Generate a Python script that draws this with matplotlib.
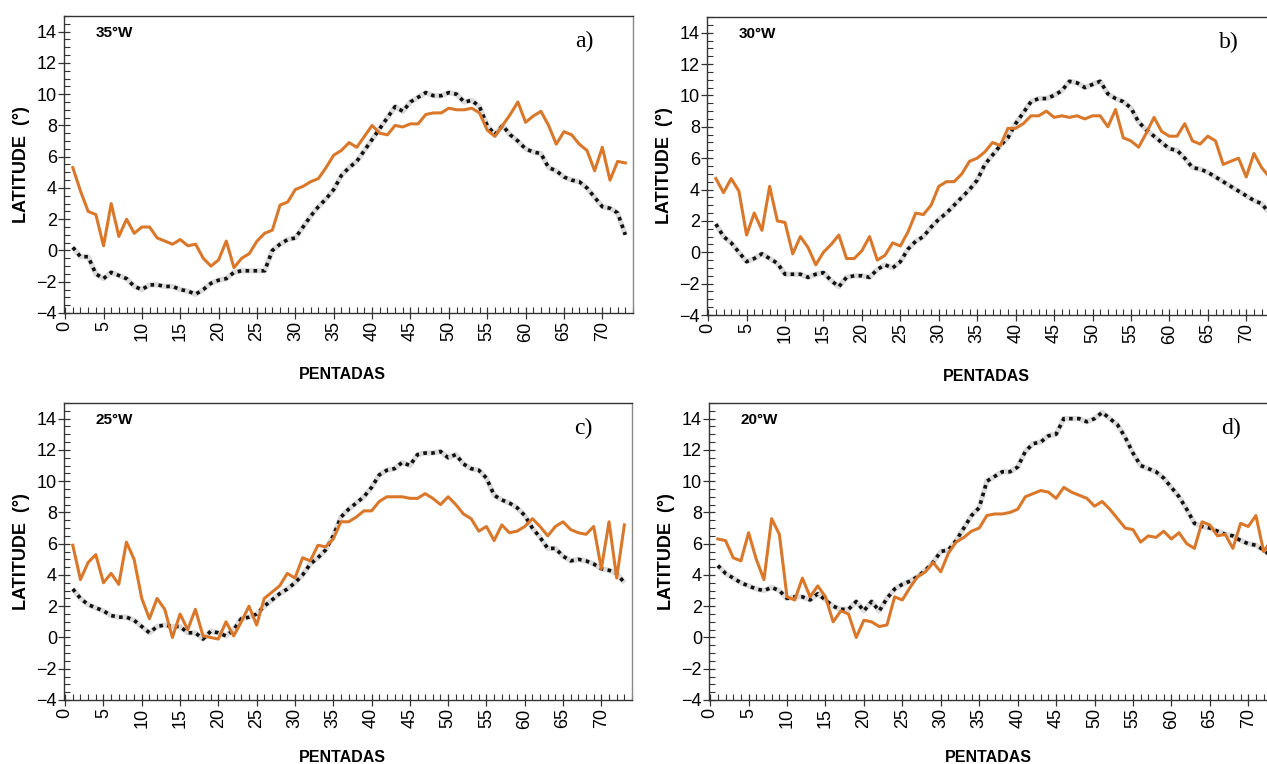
import matplotlib
matplotlib.use("Agg")
import matplotlib.pyplot as plt
from matplotlib.ticker import MultipleLocator
import numpy as np

plt.rcParams['font.family'] = ['Liberation Sans', 'DejaVu Sans']

pentadas = list(range(1, 74))

# 35°W
obs_35w = [5.3, 3.8, 2.5, 2.3, 0.3, 3.0, 0.9, 2.0, 1.1, 1.5, 1.5, 0.8, 0.6, 0.4, 0.7, 0.3, 0.4, -0.5,
           -1.0, -0.6, 0.6, -1.1, -0.5, -0.2, 0.6, 1.1, 1.3, 2.9, 3.1, 3.9, 4.1, 4.4, 4.6, 5.3, 6.1, 6.4,
           6.9, 6.6, 7.3, 8.0, 7.5, 7.4, 8.0, 7.9, 8.1, 8.1, 8.7, 8.8, 8.8, 9.1, 9.0, 9.0, 9.1, 8.8,
           7.7, 7.3, 8.0, 8.7, 9.5, 8.2, 8.6, 8.9, 8.0, 6.8, 7.6, 7.4, 6.8, 6.4, 5.1, 6.6, 4.5, 5.7, 5.6]
clim_35w = [0.2, -0.4, -0.4, -1.5, -1.8, -1.4, -1.6, -1.8, -2.3, -2.5, -2.2, -2.2, -2.3, -2.3, -2.5,
            -2.6, -2.8, -2.5, -2.1, -1.9, -1.8, -1.4, -1.3, -1.3, -1.3, -1.3, 0.0, 0.4, 0.7, 0.8, 1.5,
            2.2, 2.8, 3.3, 3.9, 4.8, 5.3, 5.7, 6.4, 7.1, 7.8, 8.5, 9.2, 8.9, 9.5, 9.8, 10.1, 9.9, 9.9,
            10.1, 10.0, 9.5, 9.6, 9.2, 8.0, 7.4, 8.0, 7.4, 7.0, 6.5, 6.3, 6.2, 5.3, 5.1, 4.7, 4.5, 4.4,
            4.0, 3.4, 2.8, 2.7, 2.4, 1.0]

# 30°W
obs_30w = [4.7, 3.8, 4.7, 3.9, 1.1, 2.5, 1.4, 4.2, 2.0, 1.9, -0.1, 1.0, 0.3, -0.8, 0.0, 0.5, 1.1, -0.4,
           -0.4, 0.1, 1.0, -0.5, -0.2, 0.6, 0.4, 1.3, 2.5, 2.4, 3.0, 4.2, 4.5, 4.5, 5.0, 5.8, 6.0, 6.4,
           7.0, 6.8, 7.9, 7.9, 8.2, 8.7, 8.7, 9.0, 8.6, 8.7, 8.6, 8.7, 8.5, 8.7, 8.7, 8.0, 9.1, 7.3,
           7.1, 6.7, 7.6, 8.6, 7.7, 7.4, 7.4, 8.2, 7.1, 6.9, 7.4, 7.1, 5.6, 5.8, 6.0, 4.8, 6.3, 5.4, 4.8]
clim_30w = [1.8, 1.0, 0.6, 0.0, -0.6, -0.4, -0.1, -0.4, -0.7, -1.4, -1.4, -1.4, -1.6, -1.4, -1.3, -1.8,
            -2.2, -1.6, -1.5, -1.5, -1.6, -1.1, -0.8, -1.0, -0.6, 0.2, 0.7, 1.0, 1.6, 2.1, 2.5, 3.0, 3.5,
            4.0, 4.6, 5.6, 6.2, 6.8, 7.3, 8.2, 8.9, 9.6, 9.8, 9.8, 10.0, 10.3, 10.9, 10.8, 10.5, 10.7,
            10.9, 10.1, 9.8, 9.6, 9.2, 8.3, 7.8, 7.4, 7.0, 6.6, 6.5, 6.0, 5.4, 5.3, 5.1, 4.8, 4.5, 4.2,
            3.9, 3.6, 3.3, 3.1, 2.5]

# 25°W
obs_25w = [5.9, 3.7, 4.8, 5.3, 3.5, 4.1, 3.4, 6.1, 5.0, 2.5, 1.2, 2.5, 1.8, 0.0, 1.5, 0.5, 1.8, 0.1,
           0.0, -0.1, 1.0, 0.1, 1.0, 2.0, 0.8, 2.5, 2.9, 3.3, 4.1, 3.8, 5.1, 4.9, 5.9, 5.8, 6.3, 7.4,
           7.4, 7.7, 8.1, 8.1, 8.7, 9.0, 9.0, 9.0, 8.9, 8.9, 9.2, 8.9, 8.5, 9.0, 8.5, 7.9, 7.6, 6.8,
           7.1, 6.2, 7.2, 6.7, 6.8, 7.1, 7.6, 7.1, 6.5, 7.1, 7.4, 6.9, 6.7, 6.6, 7.1, 4.4, 7.4, 3.8, 7.2]
clim_25w = [3.1, 2.5, 2.1, 1.9, 1.7, 1.4, 1.3, 1.3, 1.1, 0.7, 0.3, 0.7, 0.8, 0.7, 0.7, 0.3, 0.3, -0.1,
            0.4, 0.3, 0.1, 0.5, 1.2, 1.3, 1.5, 2.0, 2.4, 2.8, 3.1, 3.5, 4.0, 4.7, 5.1, 5.6, 6.5, 7.7,
            8.2, 8.6, 9.0, 9.6, 10.4, 10.7, 10.8, 11.2, 11.0, 11.7, 11.8, 11.8, 11.9, 11.5, 11.7, 11.1,
            10.8, 10.7, 10.2, 9.1, 8.8, 8.6, 8.3, 7.8, 7.0, 6.4, 5.7, 5.7, 5.2, 4.9, 5.0, 4.9, 4.7, 4.4,
            4.3, 4.1, 3.5]

# 20°W
obs_20w = [6.3, 6.2, 5.1, 4.9, 6.7, 5.0, 3.7, 7.6, 6.6, 2.6, 2.4, 3.8, 2.6, 3.3, 2.6, 1.0, 1.7, 1.5,
           0.0, 1.1, 1.0, 0.7, 0.8, 2.6, 2.4, 3.2, 3.9, 4.2, 4.8, 4.2, 5.4, 6.1, 6.4, 6.8, 7.0, 7.8,
           7.9, 7.9, 8.0, 8.2, 9.0, 9.2, 9.4, 9.3, 8.9, 9.6, 9.3, 9.1, 8.9, 8.4, 8.7, 8.2, 7.6, 7.0,
           6.9, 6.1, 6.5, 6.4, 6.8, 6.3, 6.7, 6.0, 5.7, 7.4, 7.2, 6.5, 6.6, 5.7, 7.3, 7.1, 7.8, 5.5, 6.2]
clim_20w = [4.6, 4.1, 3.8, 3.5, 3.3, 3.1, 3.0, 3.2, 3.0, 2.5, 2.6, 2.6, 2.4, 2.8, 2.4, 2.0, 1.8, 1.8,
            2.3, 1.7, 2.3, 1.7, 2.5, 3.1, 3.4, 3.6, 3.9, 4.3, 4.8, 5.5, 5.6, 6.2, 7.0, 7.8, 8.3, 10.0,
            10.3, 10.6, 10.6, 10.9, 11.9, 12.4, 12.5, 12.9, 13.0, 14.0, 14.0, 14.0, 13.8, 14.0, 14.4,
            14.0, 13.6, 12.8, 11.8, 11.0, 10.8, 10.6, 10.2, 9.6, 9.0, 8.2, 7.3, 7.1, 7.0, 6.8, 6.6, 6.5,
            6.2, 6.0, 5.9, 5.6, 5.2]

longitudes = ["35°W", "30°W", "25°W", "20°W"]
panel_tags = ["a)", "b)", "c)", "d)"]
observed = [obs_35w, obs_30w, obs_25w, obs_20w]
climatology = [clim_35w, clim_30w, clim_25w, clim_20w]

W, H = 1267, 764
fig = plt.figure(figsize=(W / 100, H / 100), dpi=100)

# axes boxes in pixels: left, top, right, bottom
boxes = [(64, 16, 633, 313), (707, 17, 1277, 315),
         (64, 403, 632, 700), (709, 403, 1279, 700)]
# vertical position (axes fraction) of the top of each x-axis title
xlabel_y = [-0.182, -0.182, -0.168, -0.168]

orange = '#D9772A'

for box, ly, lon, tag, obs, clim in zip(boxes, xlabel_y, longitudes, panel_tags,
                                        observed, climatology):
    l, t, r, b = box
    ax = fig.add_axes([l / W, 1 - b / H, (r - l) / W, (b - t) / H])
    # soft grey halo under the dotted climatology
    ax.plot(pentadas, clim, color='#c4c4c4', lw=3.8, alpha=0.6, solid_capstyle='butt', zorder=2)
    ax.plot(pentadas, clim, color='#111111', lw=2.6, linestyle=(0, (1.0, 1.2)),
            dash_capstyle='butt', zorder=3)
    ax.plot(pentadas, obs, color=orange, lw=2.2, solid_joinstyle='round', zorder=4)

    ax.set_xlim(-0.15, 74)
    ax.set_ylim(-4, 15)
    ax.set_yticks(np.arange(-4, 15, 2))
    ax.set_xticks(np.arange(0, 71, 5))
    ax.xaxis.set_minor_locator(MultipleLocator(1))
    ax.yaxis.set_minor_locator(MultipleLocator(0.5))
    ax.tick_params(axis='both', which='major', direction='inout', length=8, width=0.9,
                   color='#333333', labelsize=13)
    ax.tick_params(axis='both', which='minor', direction='in', length=4, width=0.8,
                   color='#333333')
    ax.tick_params(axis='x', which='major', labelrotation=90, pad=2)
    ax.tick_params(axis='y', which='major', pad=1)
    for s in ax.spines.values():
        s.set_linewidth(1.0)
        s.set_color('#333333')
    ax.spines['right'].set_color('#888888')

    ax.set_xlabel('PENTADAS', fontsize=11.5, fontweight='bold')
    ax.xaxis.set_label_coords(0.49, ly)
    ax.set_ylabel('LATITUDE  (°)', fontsize=13, fontweight='bold', labelpad=5)

    ax.text(0.056, 0.943, lon, transform=ax.transAxes, fontsize=11, fontweight='bold',
            ha='left', va='center')
    ax.text(0.915, 0.915, tag, transform=ax.transAxes, fontsize=17,
            family=['Liberation Serif', 'DejaVu Serif'], ha='center', va='center')

fig.savefig('out.png', dpi=100)
